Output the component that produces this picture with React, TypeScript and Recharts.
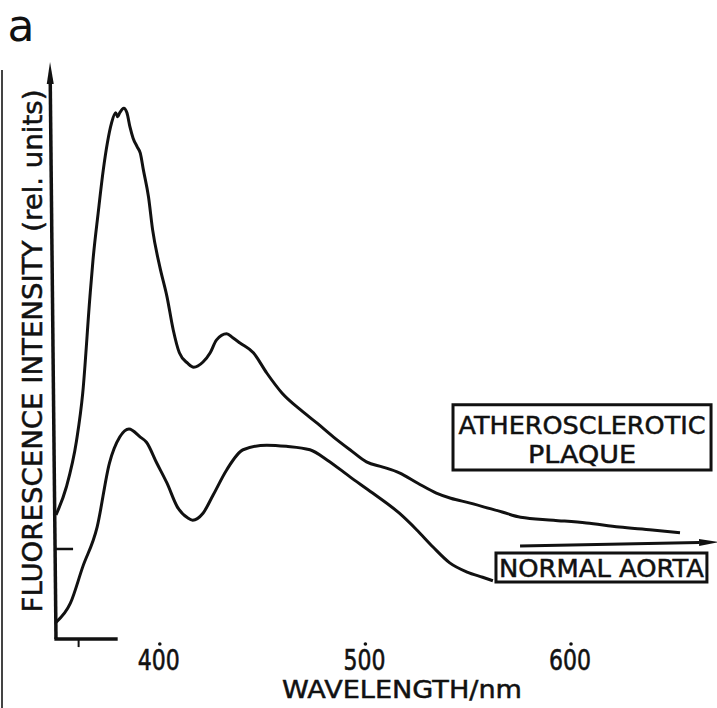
import React from "react";
import {
  LineChart,
  Line,
  XAxis,
  YAxis,
  ReferenceLine,
  ReferenceArea,
} from "recharts";

// wavelength (nm) / intensity (rel. units, 0-100)
const WL_PLAQUE = [
  350, 355, 360, 363, 366.5, 368, 370.5, 373, 375, 377, 379, 380, 381, 383,
  384.5, 386, 387.5, 389.5, 391, 392.5, 395, 397, 400.5, 404, 407, 410, 414,
  417, 421.5, 425, 428, 433, 436, 439.5, 446, 452.5, 460, 469, 477, 485, 493,
  501, 509, 517, 526, 535, 542, 551, 567, 576, 592, 608, 624, 640, 653.5,
];
const I_PLAQUE = [
  21.5, 26.3, 34.4, 42.6, 59.3, 65.7, 73.8, 81.3, 86.0, 89.4, 91.2, 90.5, 91.2,
  92.0, 91.2, 88.7, 86.8, 85.3, 84.2, 81.3, 76.6, 70.9, 64.5, 59.3, 53.6, 49.6,
  47.8, 47.1, 48.0, 49.6, 51.8, 52.9, 52.2, 51.3, 49.6, 46.1, 42.6, 39.7, 37.4,
  35.0, 32.8, 30.7, 29.8, 28.8, 27.0, 25.3, 24.4, 23.6, 22.0, 21.1, 20.6, 20.1,
  19.4, 18.9, 18.4,
];

const WL_AORTA = [
  350, 357, 363, 370, 376, 381, 385.5, 391, 394, 399, 404, 409, 414, 416.5,
  421.5, 426.5, 433, 441, 452.5, 462, 473.5, 482, 493, 504, 517, 525.5, 533.5,
  541.5, 550, 557.5, 562.5,
];
const I_AORTA = [
  2.9, 6.2, 12.5, 19.4, 30.5, 35.0, 36.4, 35.0, 34.1, 30.5, 27.0, 22.9, 21.0,
  20.6, 21.8, 25.0, 29.3, 32.8, 33.6, 33.4, 32.8, 31.0, 28.1, 25.3, 21.8, 18.9,
  15.9, 13.2, 11.6, 10.7, 10.1,
];

const X_TICKS = [400, 500, 600];
const X_TITLE = "WAVELENGTH/nm";
const Y_TITLE = "FLUORESCENCE INTENSITY (rel. units)";

const plaqueData = WL_PLAQUE.map((wl, i) => ({ wl, v: I_PLAQUE[i] }));
const aortaData = WL_AORTA.map((wl, i) => ({ wl, v: I_AORTA[i] }));

const INK = "#111";
const FONT = "'DejaVu Sans', sans-serif";

// line with a filled arrow head at the second point
const arrowShape = (len: number, half: number, width: number) => (p: any) => {
  const { x1, y1, x2, y2 } = p;
  const dx = x2 - x1;
  const dy = y2 - y1;
  const d = Math.hypot(dx, dy) || 1;
  const ux = dx / d;
  const uy = dy / d;
  const bx = x2 - ux * len;
  const by = y2 - uy * len;
  return (
    <g>
      <line x1={x1} y1={y1} x2={bx} y2={by} stroke={INK} strokeWidth={width} />
      <polygon
        points={`${x2},${y2} ${bx - uy * half},${by + ux * half} ${bx + uy * half},${by - ux * half}`}
        fill={INK}
      />
    </g>
  );
};

const WlTick = (props: any) => {
  const { x, y, payload } = props;
  return (
    <g>
      <circle cx={x + 1} cy={y + 5} r={1.8} fill={INK} />
      <text
        x={x}
        y={y + 31}
        textAnchor="middle"
        fontFamily={FONT}
        fontSize={28}
        textLength={42}
        lengthAdjust="spacingAndGlyphs"
        fill={INK}
        stroke={INK}
        strokeWidth={0.6}
      >
        {payload.value}
      </text>
    </g>
  );
};

const boxLabel = (lines: { text: string; dy: number; w: number; size: number }[]) =>
  (props: any) => {
    const vb = props.viewBox;
    const cx = vb.x + vb.width / 2;
    return (
      <g>
        {lines.map((l) => (
          <text
            key={l.text}
            x={cx}
            y={vb.y + l.dy}
            textAnchor="middle"
            fontFamily={FONT}
            fontSize={l.size}
            textLength={l.w}
            lengthAdjust="spacingAndGlyphs"
            fill={INK}
            stroke={INK}
            strokeWidth={0.5}
          >
            {l.text}
          </text>
        ))}
      </g>
    );
  };

export default function App() {
  return (
    <div
      style={{
        position: "absolute",
        left: 0,
        top: 0,
        width: 717,
        height: 708,
        background: "#fff",
      }}
    >
      <LineChart
        width={717}
        height={708}
        margin={{ top: 62, right: 0, left: 56, bottom: 0 }}
      >
        <XAxis
          type="number"
          dataKey="wl"
          domain={[350, 671.5]}
          ticks={X_TICKS}
          interval={0}
          axisLine={false}
          tickLine={false}
          tickSize={0}
          tickMargin={0}
          height={69}
          tick={<WlTick />}
          allowDataOverflow
        />
        <YAxis type="number" domain={[0, 100]} hide allowDataOverflow />

        {/* axes drawn as segments, like the hand-drawn original */}
        <ReferenceLine
          segment={[
            { x: 350, y: 0 },
            { x: 347.1, y: 100 },
          ]}
          ifOverflow="visible"
          shape={arrowShape(22, 3.5, 3.5)}
        />
        <ReferenceLine
          segment={[
            { x: 349.2, y: 0 },
            { x: 380, y: 0 },
          ]}
          ifOverflow="visible"
          stroke={INK}
          strokeWidth={3.5}
        />
        <ReferenceLine
          segment={[
            { x: 361, y: 0 },
            { x: 361, y: -1.4 },
          ]}
          ifOverflow="visible"
          stroke={INK}
          strokeWidth={2}
        />
        <ReferenceLine
          segment={[
            { x: 350, y: 15.6 },
            { x: 358.3, y: 15.6 },
          ]}
          ifOverflow="visible"
          stroke={INK}
          strokeWidth={2.5}
        />
        <ReferenceLine
          segment={[
            { x: 575.7, y: 16.1 },
            { x: 672.5, y: 16.8 },
          ]}
          ifOverflow="visible"
          shape={arrowShape(20, 3.5, 3)}
        />

        <ReferenceArea
          x1={543.1}
          x2={668.6}
          y1={29.3}
          y2={40.6}
          ifOverflow="visible"
          fill="none"
          fillOpacity={0}
          stroke={INK}
          strokeWidth={3}
          label={boxLabel([
            { text: "ATHEROSCLEROTIC", dy: 29, w: 247, size: 25 },
            { text: "PLAQUE", dy: 58, w: 108, size: 25 },
          ])}
        />
        <ReferenceArea
          x1={564}
          x2={666.6}
          y1={9.9}
          y2={14.9}
          ifOverflow="visible"
          fill="none"
          fillOpacity={0}
          stroke={INK}
          strokeWidth={3}
          label={boxLabel([
            { text: "NORMAL AORTA", dy: 24, w: 205, size: 24 },
          ])}
        />

        <Line
          data={plaqueData}
          dataKey="v"
          type="monotone"
          stroke={INK}
          strokeWidth={3}
          dot={false}
          activeDot={false}
          isAnimationActive={false}
        />
        <Line
          data={aortaData}
          dataKey="v"
          type="monotone"
          stroke={INK}
          strokeWidth={3}
          dot={false}
          activeDot={false}
          isAnimationActive={false}
        />
      </LineChart>

      <svg
        width={717}
        height={708}
        style={{ position: "absolute", left: 0, top: 0, pointerEvents: "none" }}
      >
        <line x1={2} y1={70} x2={2} y2={708} stroke="#444" strokeWidth={2} />
        <text
          x={21}
          y={41}
          textAnchor="middle"
          fontFamily={FONT}
          fontSize={44}
          fill={INK}
        >
          a
        </text>
        <text
          x={402}
          y={698}
          textAnchor="middle"
          fontFamily={FONT}
          fontSize={25}
          textLength={240}
          lengthAdjust="spacingAndGlyphs"
          fill={INK}
          stroke={INK}
          strokeWidth={0.5}
        >
          {X_TITLE}
        </text>
        <text
          transform="translate(42 351) rotate(-90)"
          textAnchor="middle"
          fontFamily={FONT}
          fontSize={26}
          textLength={523}
          lengthAdjust="spacingAndGlyphs"
          fill={INK}
          stroke={INK}
          strokeWidth={0.5}
        >
          {Y_TITLE}
        </text>
      </svg>
    </div>
  );
}
